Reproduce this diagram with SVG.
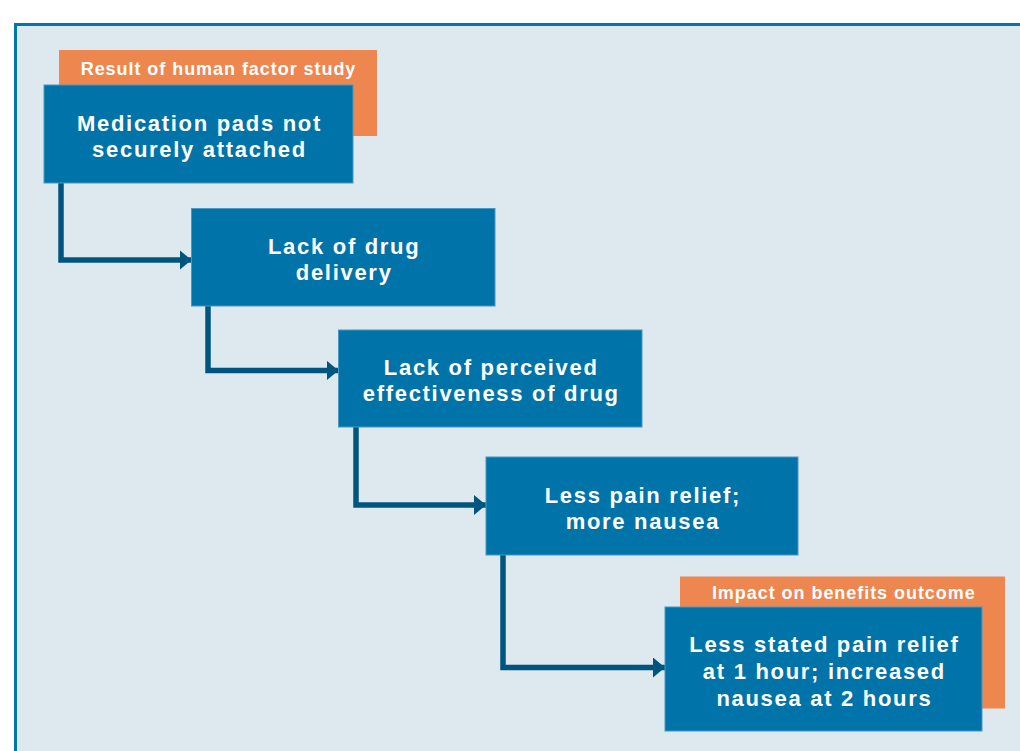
<svg xmlns="http://www.w3.org/2000/svg" width="1020" height="751" viewBox="0 0 1020 751">
<style>
.box{fill:#0074a9;stroke:#4b98c2;stroke-width:1}
.tag{fill:#ee8650}
.t{font-family:"Liberation Sans","Open Sans",sans-serif;font-weight:700;fill:#ffffff;text-anchor:middle}
.big{font-size:22px;letter-spacing:1.7px}
.small{font-size:18px;letter-spacing:0.95px}
.conn{fill:none;stroke:#00557f;stroke-width:5.5;stroke-linejoin:miter}
</style>
<defs>
<marker id="arr" markerUnits="userSpaceOnUse" markerWidth="14" markerHeight="20" refX="12" refY="10" orient="auto">
<path d="M0,0 L12,10 L0,20 Z" fill="#00557f"/>
</marker>
</defs>
<rect x="0" y="0" width="1020" height="751" fill="#ffffff"/>
<rect id="panel" x="15.5" y="24.5" width="1020" height="740" fill="#dde8ef" stroke="#0077aa" stroke-width="3"/>

<g id="connectors">
<path class="conn" d="M61,183 V260 H191.5" marker-end="url(#arr)"/>
<path class="conn" d="M208,306 V370.5 H338.5" marker-end="url(#arr)"/>
<path class="conn" d="M356,427 V505 H486" marker-end="url(#arr)"/>
<path class="conn" d="M503,555 V667.5 H665" marker-end="url(#arr)"/>
</g>

<g id="label-human-factor">
<rect class="tag" x="59" y="50" width="318" height="86"/>
<text class="t small" x="218.5" y="75">Result of human factor study</text>
</g>
<g id="node-pads">
<rect class="box" x="44" y="85" width="309" height="98"/>
<text class="t big" x="199.5" y="131">Medication pads not</text>
<text class="t big" x="199.5" y="157">securely attached</text>
</g>
<g id="node-delivery">
<rect class="box" x="191.5" y="208.5" width="303.5" height="97.5"/>
<text class="t big" x="344.2" y="254.3">Lack of drug</text>
<text class="t big" x="344.2" y="280.3">delivery</text>
</g>
<g id="node-effectiveness">
<rect class="box" x="338.5" y="330" width="303.5" height="97"/>
<text class="t big" x="491.2" y="375">Lack of perceived</text>
<text class="t big" x="491.2" y="401">effectiveness of drug</text>
</g>
<g id="node-pain">
<rect class="box" x="486" y="457" width="312" height="98"/>
<text class="t big" x="642.9" y="503.3">Less pain relief;</text>
<text class="t big" x="642.9" y="529.3">more nausea</text>
</g>
<g id="label-impact">
<rect class="tag" x="680" y="576.5" width="325" height="132"/>
<text class="t small" x="843.8" y="599.3">Impact on benefits outcome</text>
</g>
<g id="node-outcome">
<rect class="box" x="665" y="607" width="317" height="124"/>
<text class="t big" x="824.4" y="651.7">Less stated pain relief</text>
<text class="t big" x="824.4" y="678.7">at 1 hour; increased</text>
<text class="t big" x="824.4" y="705.7">nausea at 2 hours</text>
</g>
</svg>
